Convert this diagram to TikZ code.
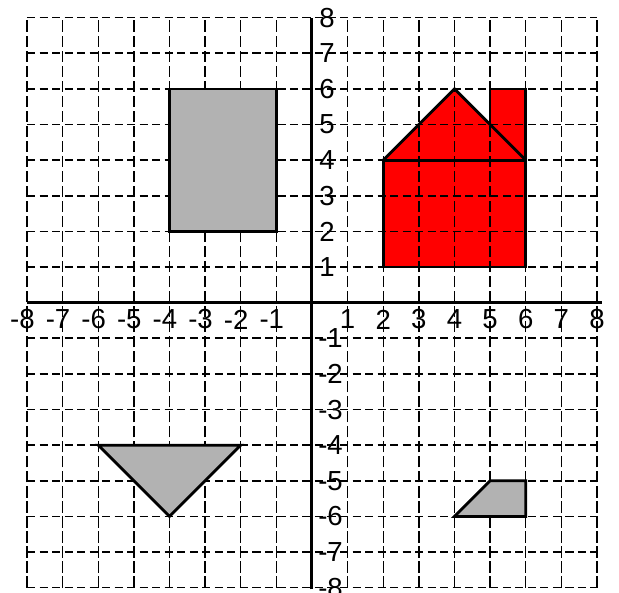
\documentclass[tikz,border=0pt]{standalone}
\usepackage{fontspec}
\setmainfont{Liberation Sans}
\begin{document}
\begin{tikzpicture}[x=1cm,y=1cm,
  gridh/.style={line width=1.3pt, dash pattern=on 6.5pt off 3.5pt},
  gridv/.style={line width=1.1pt, dash pattern=on 9pt off 3pt},
  axisline/.style={line width=2.4pt},
  outline/.style={draw=black, line width=2.2pt, line join=miter},
  grayshape/.style={outline, fill=black!30},
  lab/.style={font=\fontsize{22}{22}\selectfont, inner sep=0pt}]
\useasboundingbox (-8.758,-8.143) rectangle (8.618,8.496);
% red house fill (under the grid)
\fill[red] (2,1) -- (6,1) -- (6,6) -- (5,6) -- (5,5) -- (4,6) -- (2,4) -- cycle;
% grid
\foreach \y in {-8,...,8} \draw[gridh] (-8,\y) -- (8,\y);
\foreach \x in {-8,...,8} \draw[gridv] (\x,-8) -- (\x,8);
% gray shapes
\filldraw[grayshape] (-4,2) rectangle (-1,6);
\filldraw[grayshape] (-6,-4) -- (-2,-4) -- (-4,-6) -- cycle;
\filldraw[grayshape] (4,-6) -- (6,-6) -- (6,-5) -- (5,-5) -- cycle;
% house outlines
\draw[outline] (2,1) rectangle (6,4);
\draw[outline] (2,4) -- (4,6) -- (6,4);
\draw[outline] (5,5) -- (5,6) -- (6,6) -- (6,4);
% axes
\draw[axisline] (-8,0) -- (8.15,0);
\draw[axisline] (0,-8.05) -- (0,8);
% x labels
\foreach \x in {1,...,8} {
  \node[lab] (xp\x) at (\x,-0.47) {\x};
  \node[lab] (xn\x) at (-\x,-0.47) {\llap{-}\x};
}
% y labels
\foreach \y in {1,...,8} {
  \node[lab, anchor=west] (yp\y) at (0.2,\y) {\y};
  \node[lab, anchor=west] (yn\y) at (0.17,-\y) {-\y};
}
\end{tikzpicture}
\end{document}
